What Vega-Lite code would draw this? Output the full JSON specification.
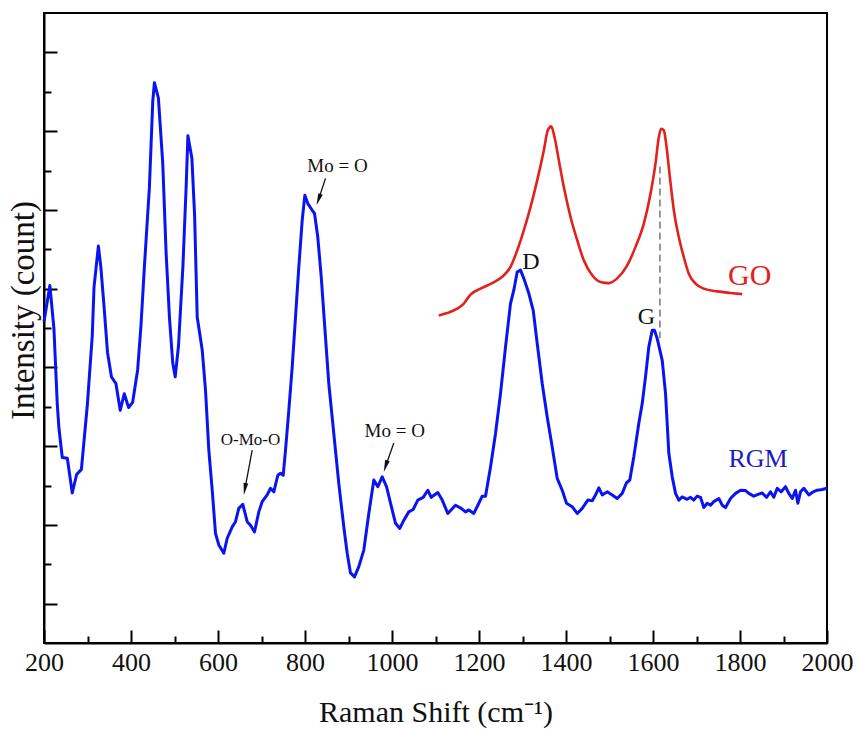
{
  "$schema": "https://vega.github.io/schema/vega-lite/v6.json",
  "width": 783,
  "height": 630,
  "autosize": {"type": "none"},
  "padding": {"left": 44, "top": 13, "right": 33, "bottom": 86},
  "background": "white",
  "config": {
    "view": {"stroke": "#000000", "strokeWidth": 2},
    "axis": {
      "domainColor": "#000000",
      "domainWidth": 2,
      "tickColor": "#000000",
      "tickWidth": 2,
      "grid": false,
      "labelFont": "Liberation Serif",
      "labelFontSize": 26,
      "labelColor": "#111111",
      "titleFont": "Liberation Serif",
      "titleFontSize": 30,
      "titleFontWeight": "normal",
      "titleColor": "#111111"
    },
    "text": {"font": "Liberation Serif"}
  },
  "datasets": {
    "rgm": [
      {"x":200,"y":8.16},{"x":213.5,"y":9.08},{"x":222.8,"y":7.99},{"x":230.5,"y":6.07},{"x":234.3,"y":5.46},{"x":242,"y":4.71},{"x":253.6,"y":4.69},{"x":265,"y":3.81},{"x":275,"y":4.28},{"x":286,"y":4.41},{"x":299.8,"y":6.07},{"x":311,"y":7.81},{"x":315,"y":9.04},{"x":325,"y":10.08},{"x":330.6,"y":9.56},{"x":338.3,"y":8.51},{"x":346,"y":7.38},{"x":355,"y":6.76},{"x":365.3,"y":6.59},{"x":375.2,"y":5.91},{"x":384.5,"y":6.33},{"x":394.5,"y":5.98},{"x":403.7,"y":6.11},{"x":415.3,"y":6.94},{"x":423,"y":8.07},{"x":430.8,"y":9.56},{"x":442.3,"y":11.57},{"x":450,"y":13.75},{"x":453.8,"y":14.23},{"x":463,"y":13.84},{"x":473,"y":12.18},{"x":480.7,"y":9.91},{"x":488.5,"y":8.25},{"x":496,"y":7.11},{"x":501.6,"y":6.76},{"x":509.2,"y":7.55},{"x":519.3,"y":9.56},{"x":527,"y":11.65},{"x":530.8,"y":12.88},{"x":540,"y":12.31},{"x":546.2,"y":10.87},{"x":552.2,"y":8.28},{"x":563.7,"y":7.44},{"x":571.3,"y":6.42},{"x":578.9,"y":4.9},{"x":586.7,"y":3.88},{"x":594.3,"y":2.78},{"x":601.9,"y":2.49},{"x":613.3,"y":2.28},{"x":621.2,"y":2.66},{"x":632.7,"y":2.95},{"x":640.2,"y":3.08},{"x":647.8,"y":3.42},{"x":657,"y":3.52},{"x":667.1,"y":3.08},{"x":674.7,"y":2.99},{"x":683.9,"y":2.82},{"x":693.8,"y":3.33},{"x":701.6,"y":3.59},{"x":713.1,"y":3.76},{"x":720.7,"y":3.93},{"x":728.3,"y":3.84},{"x":737.5,"y":4.26},{"x":743.7,"y":4.31},{"x":749.9,"y":4.26},{"x":755.2,"y":4.9},{"x":762.8,"y":5.91},{"x":770.6,"y":7.01},{"x":778.2,"y":8.28},{"x":785.8,"y":9.55},{"x":793.6,"y":10.74},{"x":799.6,"y":11.37},{"x":806.5,"y":11.16},{"x":816.6,"y":10.99},{"x":821.9,"y":10.91},{"x":829.4,"y":10.31},{"x":837.3,"y":9.3},{"x":847.1,"y":7.77},{"x":854.7,"y":6.59},{"x":866.2,"y":5.32},{"x":877.7,"y":4.05},{"x":889.2,"y":2.95},{"x":897,"y":2.28},{"x":904.6,"y":1.78},{"x":913.8,"y":1.68},{"x":923.7,"y":1.94},{"x":935.2,"y":2.36},{"x":946.7,"y":3.29},{"x":958.2,"y":4.14},{"x":967.4,"y":3.97},{"x":977.5,"y":4.22},{"x":987.4,"y":3.97},{"x":996.6,"y":3.55},{"x":1008.1,"y":3.04},{"x":1018,"y":2.91},{"x":1027.2,"y":3.12},{"x":1038.6,"y":3.33},{"x":1048.7,"y":3.39},{"x":1059.3,"y":3.63},{"x":1071.7,"y":3.7},{"x":1082.3,"y":3.88},{"x":1090.1,"y":3.7},{"x":1105.3,"y":3.82},{"x":1115.4,"y":3.63},{"x":1128.3,"y":3.29},{"x":1146,"y":3.5},{"x":1159.1,"y":3.42},{"x":1169,"y":3.33},{"x":1176.6,"y":3.38},{"x":1188.1,"y":3.29},{"x":1199.6,"y":3.55},{"x":1207.4,"y":3.73},{"x":1215,"y":3.73},{"x":1226.5,"y":4.47},{"x":1238,"y":5.32},{"x":1249.5,"y":6.34},{"x":1261,"y":7.52},{"x":1272.4,"y":8.62},{"x":1280,"y":8.96},{"x":1287.8,"y":9.42},{"x":1295.4,"y":9.47},{"x":1303,"y":9.26},{"x":1314.5,"y":8.88},{"x":1324.6,"y":8.45},{"x":1333.8,"y":7.61},{"x":1345.3,"y":6.59},{"x":1356.8,"y":5.74},{"x":1368.3,"y":4.98},{"x":1379.8,"y":4.18},{"x":1391.3,"y":3.88},{"x":1401.2,"y":3.55},{"x":1414.3,"y":3.46},{"x":1425.8,"y":3.29},{"x":1437.3,"y":3.42},{"x":1450.2,"y":3.63},{"x":1460.3,"y":3.61},{"x":1467.9,"y":3.76},{"x":1475.5,"y":3.94},{"x":1483.3,"y":3.76},{"x":1494.8,"y":3.84},{"x":1506.2,"y":3.76},{"x":1517.7,"y":3.67},{"x":1529.2,"y":3.8},{"x":1539.1,"y":4.07},{"x":1546.7,"y":4.14},{"x":1555.9,"y":4.73},{"x":1567.4,"y":5.58},{"x":1575.2,"y":6.08},{"x":1582.8,"y":6.76},{"x":1590.4,"y":7.52},{"x":1598.2,"y":7.94},{"x":1603.5,"y":7.94},{"x":1609.7,"y":7.73},{"x":1621.2,"y":7.18},{"x":1628.8,"y":6.34},{"x":1636.4,"y":4.82},{"x":1644.2,"y":4.22},{"x":1651.8,"y":3.8},{"x":1659.3,"y":3.63},{"x":1667.2,"y":3.71},{"x":1678.6,"y":3.65},{"x":1686.2,"y":3.7},{"x":1693.8,"y":3.63},{"x":1701.6,"y":3.73},{"x":1709.2,"y":3.7},{"x":1716.8,"y":3.44},{"x":1724.6,"y":3.55},{"x":1732.2,"y":3.5},{"x":1739.8,"y":3.59},{"x":1751.3,"y":3.67},{"x":1759.1,"y":3.5},{"x":1766.7,"y":3.44},{"x":1778.2,"y":3.67},{"x":1789.7,"y":3.8},{"x":1801.2,"y":3.88},{"x":1812.7,"y":3.87},{"x":1820.3,"y":3.8},{"x":1831.7,"y":3.73},{"x":1843.2,"y":3.78},{"x":1851.1,"y":3.81},{"x":1860.9,"y":3.7},{"x":1870.1,"y":3.84},{"x":1877.7,"y":3.7},{"x":1885.6,"y":3.93},{"x":1894.7,"y":3.84},{"x":1904.6,"y":3.97},{"x":1912.2,"y":3.8},{"x":1920.1,"y":3.67},{"x":1927.6,"y":3.88},{"x":1933,"y":3.55},{"x":1939.1,"y":3.84},{"x":1946.7,"y":3.93},{"x":1958.2,"y":3.76},{"x":1968.3,"y":3.84},{"x":1977.5,"y":3.88},{"x":1989,"y":3.9},{"x":2000,"y":3.93}
    ],
    "go": [
      {"x":1107.6,"y":8.32},{"x":1126.9,"y":8.38},{"x":1149.9,"y":8.49},{"x":1165.1,"y":8.62},{"x":1180.5,"y":8.85},{"x":1203.5,"y":9.0},{"x":1230.4,"y":9.14},{"x":1253.4,"y":9.3},{"x":1272.4,"y":9.55},{"x":1287.8,"y":9.97},{"x":1303,"y":10.48},{"x":1318.4,"y":11.07},{"x":1333.8,"y":11.75},{"x":1349,"y":12.51},{"x":1358.2,"y":13.02},{"x":1366,"y":13.12},{"x":1373.6,"y":12.85},{"x":1383.5,"y":12.26},{"x":1395,"y":11.58},{"x":1410.4,"y":10.82},{"x":1425.8,"y":10.23},{"x":1440.9,"y":9.72},{"x":1460.3,"y":9.34},{"x":1479.3,"y":9.17},{"x":1498.4,"y":9.14},{"x":1517.7,"y":9.26},{"x":1540.7,"y":9.59},{"x":1559.8,"y":10.06},{"x":1578.9,"y":10.65},{"x":1594.3,"y":11.41},{"x":1605.8,"y":12.18},{"x":1613.4,"y":12.85},{"x":1618.9,"y":13.06},{"x":1624.9,"y":13.02},{"x":1631.1,"y":12.6},{"x":1638.7,"y":11.84},{"x":1647.9,"y":10.99},{"x":1659.3,"y":10.31},{"x":1670.8,"y":9.8},{"x":1682.3,"y":9.38},{"x":1697.7,"y":9.13},{"x":1716.8,"y":9.0},{"x":1747.6,"y":8.93},{"x":1778.2,"y":8.89},{"x":1805.1,"y":8.86}
    ],
    "marker": [{"x":1616,"y":12.1,"y2":7.74}],
    "arrows": [
      {"label":"Mo = O (810)","x":847.1,"y":11.8,"x2":831.1,"y2":11.26},
      {"label":"O-Mo-O","x":678.6,"y":4.9,"x2":661.8,"y2":3.91},
      {"label":"Mo = O (980)","x":1004.2,"y":5.08,"x2":985.3,"y2":4.49}
    ],
    "heads": [
      {"label":"Mo = O (810)","x":831.1,"y":11.26},
      {"label":"O-Mo-O","x":661.8,"y":3.91},
      {"label":"Mo = O (980)","x":985.3,"y":4.49}
    ],
    "notes": [
      {"text":"Mo = O","kind":"band","x":874.7,"y":11.97},
      {"text":"O-Mo-O","kind":"band-small","x":674.7,"y":5.03},
      {"text":"Mo = O","kind":"band","x":1006.2,"y":5.22},
      {"text":"D","kind":"peak","x":1319.6,"y":9.51},
      {"text":"G","kind":"peak","x":1584.7,"y":8.1},
      {"text":"GO","kind":"go","x":1822.3,"y":9.09},
      {"text":"RGM","kind":"rgm","x":1841.4,"y":4.47}
    ]
  },
  "encoding": {
    "x": {
      "field": "x",
      "type": "quantitative",
      "scale": {"domain": [200, 2000], "nice": false, "zero": false},
      "axis": {
        "title": "Raman Shift (cm⁻¹)",
        "values": [200,300,400,500,600,700,800,900,1000,1100,1200,1300,1400,1500,1600,1700,1800,1900,2000],
        "format": "d",
        "labelExpr": "datum.value % 200 === 0 ? datum.label : ''",
        "tickSize": {"condition": {"test": "datum.value % 200 === 0", "value": -13}, "value": -7},
        "labelPadding": 19,
        "labelFlush": false,
        "labelOverlap": false,
        "titleBaseline": "alphabetic",
        "titleY": 78
      }
    },
    "y": {
      "field": "y",
      "type": "quantitative",
      "scale": {"domain": [0, 16], "nice": false, "zero": false},
      "axis": {
        "title": "Intensity (count)",
        "values": [1,2,3,4,5,6,7,8,9,10,11,12,13,14,15],
        "labels": false,
        "tickSize": {"condition": {"test": "datum.value % 2 === 1", "value": -13}, "value": -7},
        "titleAngle": -90,
        "titleAlign": "center",
        "titleBaseline": "alphabetic",
        "titleFontSize": 33,
        "titleX": -11,
        "titleY": 297
      }
    }
  },
  "layer": [
    {
      "data": {"name": "go"},
      "mark": {"type": "line", "color": "#e3211c", "strokeWidth": 2.6, "interpolate": "monotone"}
    },
    {
      "data": {"name": "rgm"},
      "mark": {"type": "line", "color": "#0a14ef", "strokeWidth": 3, "strokeJoin": "round"}
    },
    {
      "data": {"name": "marker"},
      "mark": {"type": "rule", "color": "#333333", "strokeWidth": 1, "strokeDash": [7, 4]},
      "encoding": {"y2": {"field": "y2"}}
    },
    {
      "data": {"name": "arrows"},
      "mark": {"type": "rule", "color": "#111111", "strokeWidth": 1.3},
      "encoding": {"x2": {"field": "x2"}, "y2": {"field": "y2"}}
    },
    {
      "data": {"name": "heads"},
      "transform": [{"filter": "datum.label === 'Mo = O (810)'"}],
      "mark": {"type": "point", "shape": "M0,1L-0.4,-1L0.4,-1Z", "filled": true, "color": "#111111", "opacity": 1, "size": 144, "angle": 20}
    },
    {
      "data": {"name": "heads"},
      "transform": [{"filter": "datum.label === 'O-Mo-O'"}],
      "mark": {"type": "point", "shape": "M0,1L-0.4,-1L0.4,-1Z", "filled": true, "color": "#111111", "opacity": 1, "size": 144, "angle": 10}
    },
    {
      "data": {"name": "heads"},
      "transform": [{"filter": "datum.label === 'Mo = O (980)'"}],
      "mark": {"type": "point", "shape": "M0,1L-0.4,-1L0.4,-1Z", "filled": true, "color": "#111111", "opacity": 1, "size": 144, "angle": 17.5}
    },
    {
      "data": {"name": "notes"},
      "transform": [{"filter": "datum.kind === 'band'"}],
      "mark": {"type": "text", "fontSize": 19, "color": "#111111", "align": "center", "baseline": "alphabetic"},
      "encoding": {"text": {"field": "text"}}
    },
    {
      "data": {"name": "notes"},
      "transform": [{"filter": "datum.kind === 'band-small'"}],
      "mark": {"type": "text", "fontSize": 17, "color": "#111111", "align": "center", "baseline": "alphabetic"},
      "encoding": {"text": {"field": "text"}}
    },
    {
      "data": {"name": "notes"},
      "transform": [{"filter": "datum.kind === 'peak'"}],
      "mark": {"type": "text", "fontSize": 24, "color": "#111111", "align": "center", "baseline": "alphabetic"},
      "encoding": {"text": {"field": "text"}}
    },
    {
      "data": {"name": "notes"},
      "transform": [{"filter": "datum.kind === 'go'"}],
      "mark": {"type": "text", "fontSize": 30, "color": "#e3211c", "align": "center", "baseline": "alphabetic"},
      "encoding": {"text": {"field": "text"}}
    },
    {
      "data": {"name": "notes"},
      "transform": [{"filter": "datum.kind === 'rgm'"}],
      "mark": {"type": "text", "fontSize": 26, "color": "#1a1ac8", "align": "center", "baseline": "alphabetic"},
      "encoding": {"text": {"field": "text"}}
    }
  ]
}
